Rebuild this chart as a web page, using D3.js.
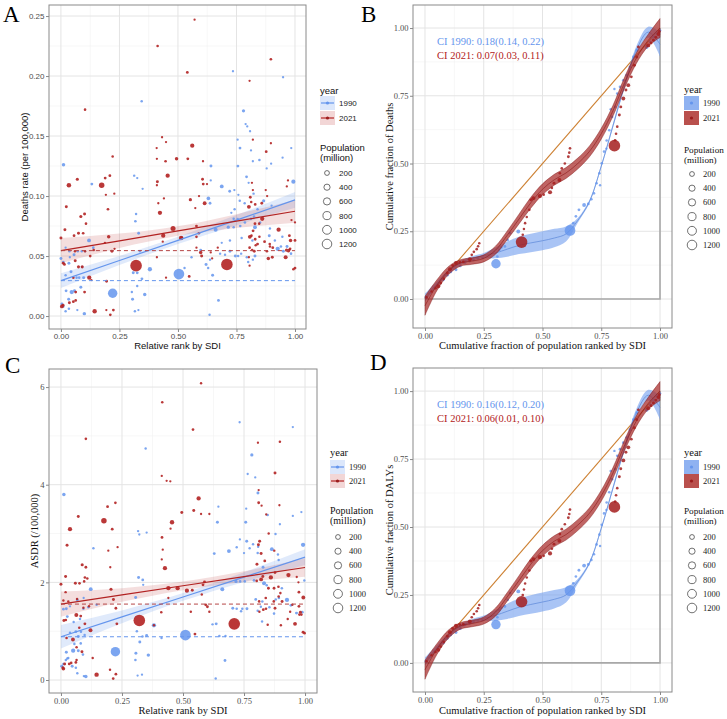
<!DOCTYPE html>
<html><head><meta charset="utf-8">
<script src="https://cdn.jsdelivr.net/npm/d3@7"></script>
<style>body{margin:0;background:#fff}svg{display:block}</style>
</head><body>
<svg id="c" width="727" height="719"></svg>
<script>
// ---------------- DATA ----------------
// Panel A: [relative SDI rank, deaths rate, population (million)]
const a1990 = [
[.345,.179,8],[.011,.126,40],[.132,.110,15],[.313,.117,6],[.326,.115,4],[.349,.106,4],[.321,.085,6],[.318,.079,10],[.332,.069,15],
[.120,.063,60],[.103,.054,4],[.138,.057,15],[.020,.057,4],[.036,.054,8],[.089,.054,6],[.072,.054,6],[.056,.051,20],[.0,.048,20],[.010,.045,12],[.034,.044,20],[.038,.049,4],[.090,.041,4],[.043,.037,20],[.078,.032,8],[.097,.032,20],[.067,.032,8],[.020,.034,6],
[.046,.020,90],[.058,.021,20],[.085,.024,20],[.022,.021,15],[.033,.014,20],[.004,.010,20],[.010,.008,10],[.034,.006,8],[.020,.004,6],
[.221,.019,850],[.380,.039,90],[.337,.054,4],[.326,.036,15],[.309,.036,20],[.346,.031,15],[.326,.025,6],[.358,.018,40],[.306,.014,20],[.303,.020,6],[.316,.004,6],[.331,.005,4],[.100,.002,40],[.070,.005,4],[.504,.035,1150],
[.735,.204,4],[.949,.199,4],[.780,.171,30],[.789,.160,4],[.796,.158,4],[.808,.154,4],[.755,.147,4],[.765,.140,15],[.812,.138,4],[.848,.130,8],[.820,.129,4],[.898,.127,4],[.641,.125,20],[.756,.125,15],[.879,.123,4],[.984,.140,4],[.947,.132,4],[.993,.112,80],
[.687,.108,60],[.640,.113,4],[.721,.104,15],[.793,.116,15],[.802,.111,4],[.741,.105,4],[.630,.098,50],[.637,.094,15],[.758,.101,4],[.764,.096,6],[.785,.094,6],[.823,.102,6],[.866,.096,30],[.900,.092,4],[.840,.089,6],[.742,.089,6],[.738,.081,6],[.728,.086,4],[.755,.081,4],
[.661,.072,70],[.715,.074,30],[.738,.074,8],[.766,.075,10],[.786,.078,10],[.812,.081,6],[.829,.074,60],[.851,.078,6],[.825,.083,6],[.890,.067,20],[.893,.073,6],
[.926,.056,90],[.940,.058,8],[.950,.054,20],[.966,.058,20],[.983,.052,10],[.946,.066,6],[.914,.063,6],[.818,.063,6],[.772,.065,6],[.722,.063,6],[.687,.061,4],[.722,.054,15],[.680,.052,6],[.701,.051,6],[.745,.050,20],[.794,.049,6],[.757,.050,6],[.770,.052,6],[.829,.050,20],[.800,.045,6],[.820,.047,6],[.620,.043,20],[.637,.047,6],[.648,.034,20],[.629,.040,6],[.597,.055,15],[.673,.013,15],[.635,.001,6],[.528,.040,6],[.558,.049,6]
];
const a2021 = [
[.571,.247,4],[.413,.225,10],[.540,.203,15],[.897,.214,12],[.806,.196,4],
[.103,.172,10],[.432,.149,4],[.449,.145,4],[.221,.133,8],[.409,.140,4],
[.410,.131,4],[.447,.129,10],[.494,.131,40],[.542,.131,15],[.607,.129,4],
[.561,.142,90],[.456,.117,90],[.034,.109,110],[.070,.114,25],[.174,.109,200],
[.189,.115,15],[.209,.117,15],[.192,.101,4],[.228,.102,4],[.412,.112,20],[.410,.109,4],
[.877,.137,15],[.897,.144,4],[.820,.147,4],
[.023,.091,20],[.085,.083,25],[.101,.085,20],[.107,.077,10],[.201,.089,12],[.416,.094,4],[.423,.086,90],[.440,.098,4],
[.605,.114,15],[.608,.110,15],[.624,.110,4],[.553,.097,30],[.614,.094,60],[.590,.100,4],[.574,.090,4],
[.809,.099,15],[.813,.095,8],[.803,.091,60],[.830,.093,12],[.820,.105,4],[.816,.111,4],[.858,.094,15],[.875,.105,4],[.881,.100,4],
[.860,.081,90],[.829,.077,15],[.847,.077,8],[.821,.071,15],[.814,.067,10],[.807,.066,60],[.830,.064,15],[.840,.060,15],[.848,.066,8],[.817,.055,8],[.806,.057,12],[.826,.054,15],[.832,.059,6],[.870,.062,15],[.892,.060,10],[.905,.057,15],[.880,.054,12],[.893,.058,6],
[.930,.072,90],[.975,.055,15],[.981,.063,40],[.976,.067,15],[.964,.055,30],[.972,.054,12],[.979,.056,12],[1.0,.063,15],[.903,.049,20],[.886,.048,40],[.960,.049,70],[1.0,.040,15],[.993,.039,10],[1.0,.078,4],[.985,.080,4],[.970,.113,4],[.965,.108,4],
[.513,.065,100],[.516,.065,40],[.579,.075,15],[.589,.069,10],[.579,.066,10],[.597,.053,40],[.601,.050,20],[.579,.057,4],[.709,.043,1400],[.548,.033,15],[.646,.048,4],[.640,.053,4],[.670,.057,4],[.806,.042,4],[.803,.049,4],
[.479,.073,150],[.437,.067,90],[.410,.049,4],[.449,.032,4],[.321,.042,1400],[.435,.062,4],
[.0,.065,20],[.017,.072,20],[.056,.067,15],[.075,.069,20],[.095,.069,12],[.204,.066,40],[.188,.061,4],[.218,.054,20],[.140,.055,10],[.103,.054,6],[.125,.050,12],
[.010,.044,20],[.015,.043,15],[.061,.046,20],[.075,.041,25],[.091,.041,25],[.121,.032,90],[.195,.029,15],[.053,.032,10],[.101,.020,15],[.063,.020,15],
[.004,.008,60],[.009,.009,20],[.036,.011,20],[.053,.012,15],[.063,.013,12],[.144,.004,100],[.194,.005,4],[.224,.005,15],[.211,.001,12],[.130,.030,4],[.060,.054,6],[.229,.056,4]
];
const aFitX = [0, .25, .5, .75, 1];
const aFit1990 = [.0295, .0463, .0630, .0799, .0968];
const aHalf1990 = [.0062, .0038, .0030, .0042, .0065];
const aFit2021 = [.0545, .0627, .0709, .0791, .0873];
const aHalf2021 = [.0105, .0060, .0040, .0058, .0095];
const aMean1990 = .0295, aMean2021 = .0545;
const aYTicks = [0, .05, .10, .15, .20, .25];

// Panel C: [relative SDI rank, ASDR, population (million)]
const c1990 = [
[.012,3.80,40],[.347,4.74,6],[.316,3.05,6],[.321,2.98,4],[.351,3.02,4],[.133,2.70,6],[.318,2.10,20],[.335,2.05,15],[.306,1.69,20],[.337,1.95,4],
[.122,1.86,60],[.093,1.68,4],[.067,1.64,20],[.022,1.46,15],[.037,1.51,4],[.010,1.45,12],[.026,1.30,15],[.052,1.19,6],[.078,1.25,8],[.112,1.49,6],[.092,1.46,6],[.146,1.54,6],
[.061,.99,15],[.082,.99,8],[.097,.92,8],[.071,.89,20],[.037,.97,6],[.050,.60,90],[.071,.60,20],[.022,.57,20],[.055,.74,8],[.081,.75,8],[.090,.52,8],[.030,.45,6],[.020,.41,8],
[.046,.28,20],[.003,.28,20],[.010,.33,8],[.026,.44,8],[.061,.25,8],[.067,.14,6],[.094,.08,6],[.102,.07,40],
[.223,.58,850],[.381,1.12,90],[.351,.91,20],[.323,.78,20],[.358,.51,40],[.307,.55,20],[.305,.41,8],[.314,.09,4],[.332,.11,4],[.311,1.00,8],[.334,.89,6],[.412,.86,6],[.510,.92,1150],
[.732,5.28,4],[.950,5.18,4],[.782,4.61,30],[.765,4.22,4],[.796,4.15,4],[.807,3.83,20],[.847,3.38,6],[.757,3.23,20],[.641,3.23,20],[.897,3.19,4],[.879,2.99,6],[.950,3.36,4],[.985,3.44,4],[.645,3.55,4],[.759,3.51,4],
[.992,2.77,90],[.688,2.64,60],[.628,2.59,15],[.864,2.68,60],[.761,2.84,20],[.720,2.72,6],[.733,2.88,4],[.750,2.60,4],[.773,2.70,6],[.787,2.78,6],[.806,2.60,8],[.808,2.73,6],[.828,2.31,15],[.889,2.57,6],[.892,2.46,6],
[.661,1.86,70],[.717,2.02,30],[.734,2.02,8],[.753,2.02,8],[.791,2.04,15],[.832,1.98,70],[.843,1.94,8],[.798,1.65,15],[.825,1.61,8],[.854,1.49,8],[.873,1.36,8],[.880,1.65,8],[.893,1.68,8],[.926,1.64,90],[.905,1.88,8],[.942,1.53,10],[.965,1.37,20],[.989,1.39,10],[.997,2.04,6],
[.704,1.47,20],[.720,1.46,8],[.738,1.41,8],[.743,1.46,8],[.762,1.46,20],[.636,1.15,20],[.621,1.14,6],[.649,.90,8],[.674,.90,6],[.806,1.42,6],[.819,1.50,6],[.672,.40,15],[.634,.03,6],[.824,1.20,6]
];
const c2021 = [
[.574,6.08,6],[.415,5.69,8],[.541,5.13,12],[.102,4.94,10],[.897,4.88,8],[.807,4.86,4],[.877,4.24,20],
[.413,4.18,4],[.433,4.08,4],[.448,4.07,4],[.564,3.72,90],[.544,3.47,20],[.495,3.43,20],[.574,3.40,4],[.608,3.40,4],
[.455,3.23,100],[.449,3.10,4],[.414,2.92,15],[.417,2.67,4],[.413,2.47,4],[.426,2.29,90],
[.071,3.35,20],[.037,3.09,90],[.176,3.26,200],[.191,3.55,15],[.223,3.63,12],[.210,3.09,15],[.232,2.72,4],[.194,2.65,4],[.202,2.31,4],
[.025,2.76,20],[.087,2.36,25],[.102,2.31,15],[.098,2.10,10],[.108,2.08,8],[.019,2.12,20],[.0,1.96,20],[.059,1.98,20],[.076,1.98,10],[.095,2.02,8],[.205,1.86,25],[.215,1.65,20],[.225,1.47,15],[.229,1.15,15],
[.019,1.80,6],[.010,1.63,6],[.030,1.61,6],[.066,1.66,6],[.115,1.51,6],[.092,1.48,6],
[.012,1.22,20],[.020,1.23,10],[.063,1.33,70],[.081,1.31,15],[.121,1.02,70],[.098,1.15,15],[.075,1.07,8],[.049,.83,60],[.023,.86,10],[.086,.58,20],[.064,.67,8],[.130,.45,6],
[.015,.33,20],[.008,.25,20],[.010,.23,50],[.034,.33,15],[.042,.35,10],[.061,.36,15],[.064,.41,8],
[.146,.11,100],[.225,.12,15],[.214,.03,12],[.201,.21,6],
[.440,1.88,90],[.478,1.88,90],[.440,1.68,4],[.411,1.39,8],[.321,1.22,1400],[.381,1.12,6],
[.516,1.83,90],[.538,1.84,20],[.588,2.01,20],[.582,1.95,15],[.577,1.75,6],[.593,1.54,15],[.600,1.50,15],[.608,1.40,6],[.532,1.40,6],[.710,1.15,1400],[.549,.94,15],
[.827,2.12,20],[.860,2.10,90],[.877,2.20,15],[.850,1.88,15],[.820,2.06,60],[.802,2.03,10],[.839,1.68,10],[.873,1.88,15],[.891,1.91,10],[.899,1.78,8],[.906,1.61,20],[.892,1.71,10],[.872,1.61,10],[.877,1.47,15],[.840,1.46,10],[.812,1.61,10],[.829,1.44,15],[.813,1.40,6],[.847,1.13,6],[.901,1.12,6],
[.810,3.89,4],[.810,3.63,15],[.822,3.57,4],[.895,3.58,4],[.841,3.39,4],[.814,2.84,20],[.809,2.77,20],[.820,2.59,20],[.835,2.44,15],[.803,2.37,20],[.851,3.00,6],[.874,2.65,6],
[.932,2.15,90],[.959,1.15,60],[.981,1.39,20],[.993,1.69,60],[.975,1.51,15],[.977,1.34,10],[.985,1.34,10],[.992,.98,20],[.998,.96,10],[.973,2.00,4],[.966,2.11,4],[.975,1.80,15],[.939,1.40,6],[.929,1.25,6],[.948,1.54,6]
];
const cFitX = [0, .25, .5, .75, 1];
const cFit1990 = [.886, 1.294, 1.701, 2.108, 2.516];
const cHalf1990 = [.24, .13, .08, .10, .16];
const cFit2021 = [1.555, 1.742, 1.930, 2.117, 2.305];
const cHalf2021 = [.26, .14, .09, .11, .19];
const cMean1990 = .886, cMean2021 = 1.555;
const cYTicks = [0, 2, 4, 6];

// Panels B and D: cumulative population fraction (shared), population, cumulative fraction of deaths (B) and DALYs (D)
const bX1990 = [.004,.020,.040,.055,.078,.095,.110,.132,.150,.170,.190,.206,.225,.245,.302,.308,.316,.325,.340,.352,.362,.397,.617,.631,.642,.655,.677,.695,.708,.719,.730,.742,.752,.762,.773,.784,.796,.809,.818,.830,.844,.858,.872,.887,.901,.943,.958,.972,.986,1.0,.745,.772,.790,.806];
const bPop1990 = [8,8,10,10,20,15,10,20,15,20,15,20,10,10,850,10,10,8,15,10,10,60,1150,10,10,15,60,15,10,10,10,10,10,10,10,10,10,10,10,15,15,15,15,15,15,60,15,15,10,10,6,6,6,6];
const bY1990 = [.006,.022,.040,.055,.071,.088,.100,.108,.122,.135,.140,.145,.150,.152,.130,.157,.182,.190,.194,.218,.243,.249,.253,.280,.305,.329,.347,.351,.368,.390,.427,.464,.501,.544,.585,.623,.672,.709,.758,.783,.807,.826,.856,.893,.918,.930,.950,.967,.980,.991,.420,.555,.700,.775];
const dY1990 = [.006,.022,.041,.056,.073,.090,.103,.112,.126,.140,.146,.151,.156,.158,.141,.168,.194,.203,.208,.232,.257,.263,.266,.293,.318,.341,.358,.362,.379,.400,.436,.472,.508,.550,.590,.628,.676,.713,.762,.786,.810,.829,.858,.895,.920,.931,.951,.968,.981,.991,.430,.563,.706,.780];
const bX2021 = [.007,.028,.045,.057,.067,.080,.095,.106,.118,.132,.148,.163,.191,.199,.208,.220,.226,.231,.411,.416,.421,.426,.433,.444,.450,.461,.489,.505,.532,.540,.549,.572,.574,.582,.595,.610,.614,.617,.806,.809,.813,.818,.827,.833,.844,.855,.865,.878,.891,.901,.908,.950,.962,.972,.982,.993,.997];
const bPop2021 = [8,8,10,60,15,10,15,60,20,70,10,15,70,10,10,10,8,8,1400,10,8,8,8,10,15,60,90,10,80,10,20,70,10,15,10,15,10,10,1400,10,10,10,20,20,60,20,60,15,20,15,15,70,20,20,15,60,20];
const bY2021 = [.006,.028,.040,.047,.059,.075,.096,.110,.124,.133,.136,.137,.147,.163,.174,.184,.195,.206,.210,.237,.258,.280,.303,.329,.366,.372,.380,.385,.394,.410,.427,.439,.464,.482,.500,.525,.540,.556,.566,.586,.610,.636,.679,.709,.740,.771,.789,.820,.863,.893,.930,.936,.945,.955,.966,.978,.987];
const dY2021 = [.006,.028,.040,.048,.060,.077,.098,.113,.127,.137,.141,.142,.152,.168,.180,.190,.201,.213,.225,.250,.270,.292,.314,.340,.375,.382,.389,.394,.403,.420,.437,.449,.474,.492,.510,.534,.548,.564,.574,.594,.617,.643,.685,.714,.745,.775,.793,.823,.865,.895,.931,.937,.946,.956,.967,.978,.987];
const fitX = [0,.05,.1,.15,.2,.25,.3,.35,.4,.45,.5,.55,.6,.65,.7,.75,.8,.85,.9,.95,1];
const bFit1990 = [.005,.055,.100,.133,.150,.160,.170,.184,.198,.207,.215,.225,.240,.290,.360,.490,.640,.790,.920,.985,.940];
const bHalf1990 = [.015,.010,.008,.008,.008,.010,.020,.028,.032,.034,.035,.034,.028,.009,.006,.006,.008,.010,.015,.020,.045];
const bFit2021 = [-.025,.050,.105,.133,.140,.150,.180,.235,.295,.355,.405,.440,.465,.500,.545,.610,.695,.800,.890,.955,1.0];
const bHalf2021 = [.035,.020,.015,.012,.012,.013,.015,.016,.018,.020,.020,.020,.020,.020,.020,.020,.020,.020,.020,.022,.035];
const dFit1990 = [.005,.055,.100,.135,.153,.164,.175,.190,.205,.215,.224,.234,.250,.300,.368,.495,.644,.792,.921,.985,.940];
const dHalf1990 = [.015,.010,.008,.008,.008,.010,.020,.028,.032,.034,.035,.034,.028,.009,.006,.006,.008,.010,.015,.020,.045];
const dFit2021 = [-.025,.050,.106,.136,.145,.156,.187,.243,.303,.363,.413,.448,.472,.507,.551,.615,.699,.802,.891,.955,1.0];
const dHalf2021 = [.035,.020,.015,.012,.012,.013,.015,.016,.018,.020,.020,.020,.020,.020,.020,.020,.020,.020,.020,.022,.035];
const ciB = ["CI 1990:  0.18(0.14, 0.22)", "CI 2021:  0.07(0.03, 0.11)"];
const ciD = ["CI 1990:  0.16(0.12, 0.20)", "CI 2021:  0.06(0.01, 0.10)"];
const fracTicks = [0, .25, .5, .75, 1];
const years = ["1990", "2021"];
const popBreaks = [200, 400, 600, 800, 1000, 1200];

// ---------------- DRAWING ----------------
const svg = d3.select('#c');
const BLUE = '#6495ED', RED = '#B22222';
const SANS = '"Liberation Sans", Arial, Helvetica, sans-serif';
const SERIF = '"Liberation Serif", "Times New Roman", serif';
const rScale = d3.scaleSqrt().domain([0, 1400]).range([0.9, 5.8]);
const f2 = d3.format('.2f');

function frame(o) {
  const x = d3.scaleLinear().domain(o.xd).range([o.l, o.r]);
  const y = d3.scaleLinear().domain(o.yd).range([o.b, o.t]);
  const g = svg.append('g');
  const grid = g.append('g');
  grid.selectAll(null).data(o.xMinor).join('line')
    .attr('x1', d => x(d)).attr('x2', d => x(d)).attr('y1', o.t).attr('y2', o.b)
    .attr('stroke', '#f2f2f2').attr('stroke-width', 0.6);
  grid.selectAll(null).data(o.yMinor).join('line')
    .attr('y1', d => y(d)).attr('y2', d => y(d)).attr('x1', o.l).attr('x2', o.r)
    .attr('stroke', '#f2f2f2').attr('stroke-width', 0.6);
  grid.selectAll(null).data(o.xTicks).join('line')
    .attr('x1', d => x(d)).attr('x2', d => x(d)).attr('y1', o.t).attr('y2', o.b)
    .attr('stroke', '#e4e4e4').attr('stroke-width', 1);
  grid.selectAll(null).data(o.yTicks).join('line')
    .attr('y1', d => y(d)).attr('y2', d => y(d)).attr('x1', o.l).attr('x2', o.r)
    .attr('stroke', '#e4e4e4').attr('stroke-width', 1);
  const ax = g.append('g').attr('transform', `translate(0,${o.b})`)
    .call(d3.axisBottom(x).tickValues(o.xTicks).tickFormat(o.xFmt).tickSize(3).tickPadding(1.5));
  const ay = g.append('g').attr('transform', `translate(${o.l},0)`)
    .call(d3.axisLeft(y).tickValues(o.yTicks).tickFormat(o.yFmt).tickSize(3).tickPadding(1.5));
  [ax, ay].forEach(a => {
    a.select('.domain').remove();
    a.selectAll('line').attr('stroke', '#555').attr('stroke-width', 0.7);
    a.selectAll('text').attr('fill', '#4d4d4d').style('font-family', o.font).style('font-size', o.tick + 'px');
  });
  const layer = g.append('g');
  g.append('text').attr('x', (o.l + o.r) / 2).attr('y', o.xTitleY).attr('text-anchor', 'middle')
    .style('font-family', o.font).style('font-size', o.title + 'px').attr('fill', '#111').text(o.xTitle);
  g.append('text').attr('transform', `translate(${o.yTitleX},${(o.t + o.b) / 2}) rotate(-90)`).attr('text-anchor', 'middle')
    .style('font-family', o.font).style('font-size', o.title + 'px').attr('fill', '#111').text(o.yTitle);
  return { x, y, g: layer, o, root: g };
}
function border(p) {
  p.root.append('rect').attr('x', p.o.l).attr('y', p.o.t).attr('width', p.o.r - p.o.l).attr('height', p.o.b - p.o.t)
    .attr('fill', 'none').attr('stroke', '#8a8a8a').attr('stroke-width', 1);
}
function scatter(p, xs, ys, pops, color, op) {
  p.g.append('g').selectAll('circle').data(xs.map((d, i) => [d, ys[i], pops[i]])).join('circle')
    .attr('cx', d => p.x(d[0])).attr('cy', d => p.y(d[1])).attr('r', d => rScale(d[2]))
    .attr('fill', color).attr('fill-opacity', op);
}
function ribbon(p, xs, fit, half, fill, op, curve, stroke) {
  const area = d3.area().x((d, i) => p.x(xs[i])).y0((d, i) => p.y(fit[i] - half[i])).y1((d, i) => p.y(fit[i] + half[i])).curve(curve);
  p.g.append('path').attr('d', area(fit)).attr('fill', fill).attr('fill-opacity', op)
    .attr('stroke', stroke || 'none').attr('stroke-width', 0.5).attr('stroke-opacity', 0.8);
}
function fitLine(p, xs, fit, color, w, curve, dash) {
  const line = d3.line().x((d, i) => p.x(xs[i])).y(d => p.y(d)).curve(curve);
  p.g.append('path').attr('d', line(fit)).attr('fill', 'none').attr('stroke', color).attr('stroke-width', w)
    .attr('stroke-dasharray', dash || null);
}
function label(txt, x, y) {
  svg.append('text').attr('x', x).attr('y', y).style('font-family', SERIF).style('font-size', '23px').attr('fill', '#000').text(txt);
}
function legend(o) {
  const g = svg.append('g').style('font-family', o.font);
  g.append('text').attr('x', o.x).attr('y', o.yearY).style('font-size', o.tsize + 'px').attr('fill', '#111').text('year');
  years.forEach((yr, i) => {
    const cy = o.keyY[i];
    const col = i === 0 ? BLUE : RED;
    if (o.type === 'line') {
      g.append('rect').attr('x', o.x).attr('y', cy - 7).attr('width', 15).attr('height', 14)
        .attr('fill', i === 0 ? '#dce7fb' : '#f2d6d6');
      g.append('line').attr('x1', o.x + 1).attr('x2', o.x + 14).attr('y1', cy).attr('y2', cy).attr('stroke', col).attr('stroke-width', 1.2);
    } else {
      g.append('rect').attr('x', o.x).attr('y', cy - 7).attr('width', 15).attr('height', 14)
        .attr('fill', i === 0 ? '#8fb2f1' : '#b9504d');
    }
    g.append('circle').attr('cx', o.x + 7.5).attr('cy', cy).attr('r', 1.6).attr('fill', i === 0 ? BLUE : '#9b1b1b');
    g.append('text').attr('x', o.lx).attr('y', cy + 3).style('font-size', o.lsize + 'px').attr('fill', '#222').text(yr);
  });
  g.append('text').attr('x', o.x).attr('y', o.popY).style('font-size', o.psize + 'px').attr('fill', '#111').text('Population');
  g.append('text').attr('x', o.x).attr('y', o.popY + 10).style('font-size', o.psize + 'px').attr('fill', '#111').text('(million)');
  popBreaks.forEach((v, i) => {
    const cy = o.circY0 + i * 14.2;
    g.append('circle').attr('cx', o.cx).attr('cy', cy).attr('r', rScale(v) * 0.88).attr('fill', 'none').attr('stroke', '#333').attr('stroke-width', 0.7);
    g.append('text').attr('x', o.lx).attr('y', cy + 3).style('font-size', o.lsize + 'px').attr('fill', '#222').text(v);
  });
}

// ---------- Panel A ----------
const pA = frame({ l: 49, r: 306, t: 5, b: 329, xd: [-0.051, 1.047], yd: [-0.0108, 0.2592],
  xTicks: fracTicks, xMinor: [.125, .375, .625, .875], yTicks: aYTicks, yMinor: [.025, .075, .125, .175, .225],
  xFmt: f2, yFmt: f2, font: SANS, tick: 8, title: 9.5, xTitle: 'Relative rank by SDI', xTitleY: 349,
  yTitle: 'Deaths rate (per 100,000)', yTitleX: 28 });
ribbon(pA, aFitX, aFit1990, aHalf1990, BLUE, 0.2, d3.curveMonotoneX);
ribbon(pA, aFitX, aFit2021, aHalf2021, RED, 0.15, d3.curveMonotoneX);
scatter(pA, a1990.map(d => d[0]), a1990.map(d => d[1]), a1990.map(d => d[2]), BLUE, 0.85);
scatter(pA, a2021.map(d => d[0]), a2021.map(d => d[1]), a2021.map(d => d[2]), RED, 0.9);
fitLine(pA, aFitX, aFit1990, BLUE, 1.2, d3.curveLinear);
fitLine(pA, aFitX, aFit2021, RED, 1.2, d3.curveLinear);
fitLine(pA, [0, 1], [aMean1990, aMean1990], BLUE, 1, d3.curveLinear, '4,3');
fitLine(pA, [0, 1], [aMean2021, aMean2021], '#b54545', 1, d3.curveLinear, '4,3');
border(pA);
label('A', 3, 22);
legend({ font: SANS, tsize: 9.5, psize: 9.5, lsize: 8, x: 320, yearY: 94, keyY: [103, 118], lx: 339, popY: 151, cx: 327, circY0: 173, type: 'line' });

// ---------- Panel C ----------
const pC = frame({ l: 49, r: 317, t: 369, b: 693, xd: [-0.049, 1.049], yd: [-0.266, 6.37],
  xTicks: fracTicks, xMinor: [.125, .375, .625, .875], yTicks: cYTicks, yMinor: [1, 3, 5],
  xFmt: f2, yFmt: d3.format('d'), font: SERIF, tick: 8.5, title: 10.5, xTitle: 'Relative rank by SDI', xTitleY: 714,
  yTitle: 'ASDR (/100,000)', yTitleX: 38 });
ribbon(pC, cFitX, cFit1990, cHalf1990, BLUE, 0.2, d3.curveMonotoneX);
ribbon(pC, cFitX, cFit2021, cHalf2021, RED, 0.15, d3.curveMonotoneX);
scatter(pC, c1990.map(d => d[0]), c1990.map(d => d[1]), c1990.map(d => d[2]), BLUE, 0.85);
scatter(pC, c2021.map(d => d[0]), c2021.map(d => d[1]), c2021.map(d => d[2]), RED, 0.9);
fitLine(pC, cFitX, cFit1990, BLUE, 1.2, d3.curveLinear);
fitLine(pC, cFitX, cFit2021, RED, 1.2, d3.curveLinear);
fitLine(pC, [0, 1], [cMean1990, cMean1990], BLUE, 1, d3.curveLinear, '4,3');
fitLine(pC, [0, 1], [cMean2021, cMean2021], '#b54545', 1, d3.curveLinear, '4,3');
border(pC);
label('C', 5, 373);
legend({ font: SERIF, tsize: 10.5, psize: 10, lsize: 8.5, x: 330, yearY: 456, keyY: [467, 481], lx: 349, popY: 514, cx: 338, circY0: 537, type: 'line' });

// ---------- Panels B and D ----------
function concPanel(t, b, yd, yTitle, xTitleY, fY1990, fY2021, f1990, h1990, f2021, h2021, ci, ciY) {
  const p = frame({ l: 413, r: 672, t: t, b: b, xd: [-0.051, 1.051], yd: yd,
    xTicks: fracTicks, xMinor: [.125, .375, .625, .875], yTicks: fracTicks, yMinor: [.125, .375, .625, .875],
    xFmt: f2, yFmt: f2, font: SERIF, tick: 8.5, title: 10.5, xTitle: 'Cumulative fraction of population ranked by SDI',
    xTitleY: xTitleY, yTitle: yTitle, yTitleX: 393 });
  fitLine(p, [0, 1], [0, 1], '#CD8032', 1.1, d3.curveLinear);
  fitLine(p, [0, 1, 1], [0, 0, 1], '#a8a8a8', 1.6, d3.curveLinear);
  ribbon(p, fitX, f1990, h1990, '#6f9cee', 0.6, d3.curveCatmullRom);
  fitLine(p, fitX, f1990, '#5a86d8', 0.7, d3.curveCatmullRom);
  scatter(p, bX1990, fY1990, bPop1990, BLUE, 0.8);
  ribbon(p, fitX, f2021, h2021, '#a82a28', 0.72, d3.curveCatmullRom, '#7a1010');
  fitLine(p, fitX, f2021, '#8b1a1a', 0.6, d3.curveCatmullRom);
  scatter(p, bX2021, fY2021, bPop2021, '#a51d1d', 0.85);
  p.g.append('text').attr('x', 437).attr('y', ciY).style('font-family', SERIF).style('font-size', '10.5px').attr('fill', BLUE).text(ci[0]);
  p.g.append('text').attr('x', 437).attr('y', ciY + 14).style('font-family', SERIF).style('font-size', '10.5px').attr('fill', RED).text(ci[1]);
  border(p);
  return p;
}
concPanel(5, 328, [-0.107, 1.085], 'Cumulative fraction of Deaths', 349, bY1990, bY2021, bFit1990, bHalf1990, bFit2021, bHalf2021, ciB, 45);
label('B', 361, 22);
legend({ font: SERIF, tsize: 10.5, psize: 9.2, lsize: 8.5, x: 684, yearY: 93, keyY: [103, 118], lx: 703, popY: 153, cx: 692, circY0: 174, type: 'rect' });
concPanel(368, 692, [-0.107, 1.085], 'Cumulative fraction of DALYs', 714, dY1990, dY2021, dFit1990, dHalf1990, dFit2021, dHalf2021, ciD, 408);
label('D', 370, 370);
legend({ font: SERIF, tsize: 10.5, psize: 9.2, lsize: 8.5, x: 684, yearY: 456, keyY: [467, 481], lx: 703, popY: 514, cx: 692, circY0: 537, type: 'rect' });
</script>
</body></html>
